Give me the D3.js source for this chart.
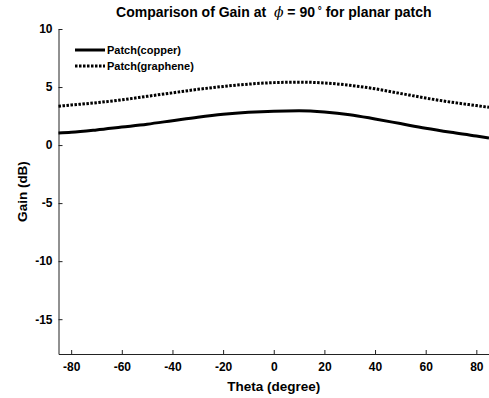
<!DOCTYPE html>
<html>
<head>
<meta charset="utf-8">
<script src="https://cdn.jsdelivr.net/npm/d3@7"></script>
<style>
  body { margin: 0; background: #fff; }
  svg { display: block; font-family: "Liberation Sans", Arial, sans-serif; }
  .tick text { font-weight: bold; font-size: 12px; fill: #000; }
</style>
</head>
<body>
<svg width="489" height="398"></svg>
<script>
const svg = d3.select("svg");

// theta sweep (degrees) and gain for both patches (dB)
const theta    = [-85, -80, -70, -60, -50, -40, -30, -20, -10, 0, 10, 20, 30, 40, 50, 60, 70, 80, 85];
const copper   = [1.05, 1.1, 1.3, 1.55, 1.8, 2.1, 2.4, 2.65, 2.82, 2.92, 2.95, 2.85, 2.62, 2.25, 1.85, 1.45, 1.1, 0.78, 0.6];
const graphene = [3.35, 3.45, 3.65, 3.9, 4.2, 4.5, 4.8, 5.05, 5.25, 5.38, 5.42, 5.35, 5.15, 4.85, 4.45, 4.05, 3.7, 3.4, 3.25];

const xTicks = [-80, -60, -40, -20, 0, 20, 40, 60, 80];
const yTicks = [10, 5, 0, -5, -10, -15];

const seriesNames = ["Patch(copper)", "Patch(graphene)"];

const m = {left: 58.5, right: 489, top: 29, bottom: 354};

const x = d3.scaleLinear().domain([-85, 85]).range([m.left, m.right]);
const y = d3.scaleLinear().domain([-18, 10]).range([m.bottom, m.top]);

// axes, ticks pointing inward, plain hyphen for negatives
const fmt = d => String(d);
const xAxis = svg.append("g")
    .attr("transform", `translate(0,${m.bottom})`)
    .call(d3.axisBottom(x).tickValues(xTicks).tickFormat(fmt)
      .tickSizeInner(-4).tickSizeOuter(0).tickPadding(8));
const yAxis = svg.append("g")
    .attr("transform", `translate(${m.left},0)`)
    .call(d3.axisLeft(y).tickValues(yTicks).tickFormat(fmt)
      .tickSizeInner(-4).tickSizeOuter(0).tickPadding(6));

[xAxis, yAxis].forEach(a => {
  a.select(".domain").attr("stroke", "#222").attr("stroke-width", 1);
  a.selectAll(".tick line").attr("stroke", "#222");
});

const line = d3.line().curve(d3.curveMonotoneX);

svg.append("path")
    .attr("d", line(theta.map((t, i) => [x(t), y(copper[i])])))
    .attr("fill", "none").attr("stroke", "#000").attr("stroke-width", 3);

svg.append("path")
    .attr("d", line(theta.map((t, i) => [x(t), y(graphene[i])])))
    .attr("fill", "none").attr("stroke", "#000").attr("stroke-width", 3)
    .attr("stroke-dasharray", "2.5,1.5");

// legend
const legend = svg.append("g").attr("transform", "translate(75,50)");
seriesNames.forEach((name, i) => {
  const row = legend.append("g").attr("transform", `translate(0,${i * 16})`);
  row.append("line")
      .attr("x1", 0).attr("x2", 30).attr("y1", 0).attr("y2", 0)
      .attr("stroke", "#000").attr("stroke-width", 3)
      .attr("stroke-dasharray", i === 1 ? "2.5,1.5" : null);
  row.append("text")
      .attr("x", 32).attr("y", 4)
      .attr("font-size", 11).attr("font-weight", "bold")
      .text(name);
});

// title
const title = svg.append("text")
    .attr("x", (m.left + m.right) / 2).attr("y", 17)
    .attr("text-anchor", "middle")
    .attr("font-size", 14).attr("font-weight", "bold");
title.append("tspan").text("Comparison of Gain at\u00A0 ");
title.append("tspan").attr("font-style", "italic").attr("font-weight", "normal")
    .attr("font-family", "'DejaVu Serif', serif").text("ϕ");
title.append("tspan").text(" = 90");
title.append("tspan").attr("dy", -3).attr("font-size", 10).text("\u00A0°");
title.append("tspan").attr("dy", 3).text(" for planar patch");

svg.append("text")
    .attr("x", (m.left + m.right) / 2).attr("y", 391)
    .attr("text-anchor", "middle")
    .attr("font-size", 13.5).attr("font-weight", "bold")
    .text("Theta (degree)");

svg.append("text")
    .attr("transform", `translate(27,${(m.top + m.bottom) / 2}) rotate(-90)`)
    .attr("text-anchor", "middle")
    .attr("font-size", 13.5).attr("font-weight", "bold")
    .text("Gain (dB)");
</script>
</body>
</html>
